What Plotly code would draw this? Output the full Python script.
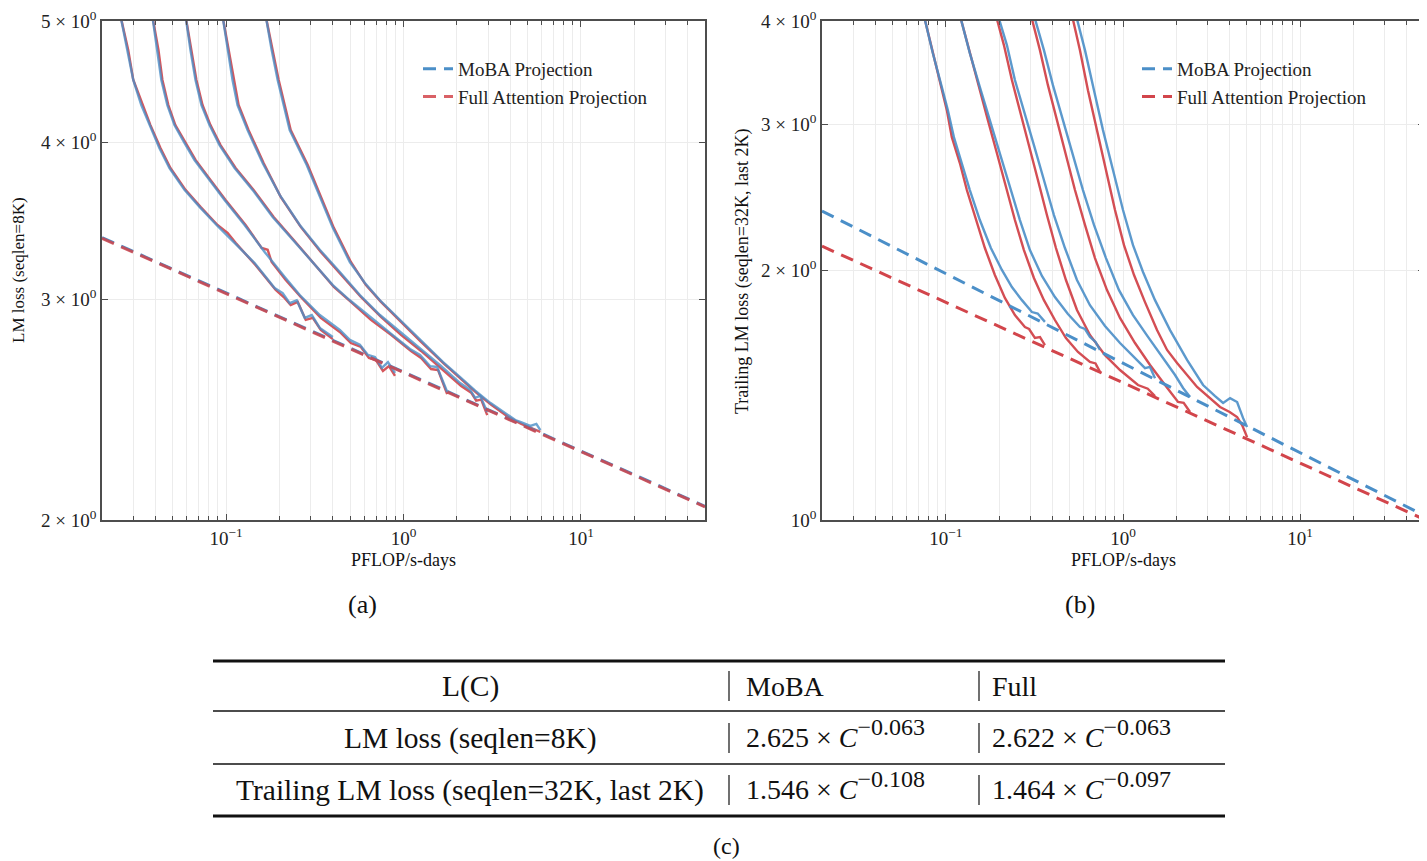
import plotly.graph_objects as go

# the page body adds an 8 px margin, so the figure is a little smaller than the window
W, H = 1419, 853
OFF = 8

# ---------------- data ----------------
# projection lines (power-law fits, drawn between the axis limits)
proj_x = [0.02, 50]
moba_proj_a = [3.359, 2.051]
full_proj_a = [3.355, 2.049]
moba_proj_b = [2.359, 1.013]
full_proj_b = [2.140, 1.002]

# (a) LM loss (seqlen=8K), five model sizes
a_moba_x = [
    [0.0254, 0.0278, 0.0300, 0.0333, 0.0370, 0.0421, 0.0480, 0.0583, 0.0709, 0.0884, 0.1117, 0.1449, 0.1879, 0.2085, 0.2284, 0.2502, 0.2776, 0.3041, 0.3375, 0.3696, 0.3997],
    [0.0384, 0.0410, 0.0432, 0.0467, 0.0512, 0.0583, 0.0664, 0.0807, 0.0981, 0.1272, 0.1650, 0.2141, 0.2602, 0.3375, 0.4377, 0.4984, 0.5676, 0.6304, 0.6902, 0.7558, 0.8176, 0.8953],
    [0.0591, 0.0630, 0.0673, 0.0727, 0.0807, 0.0919, 0.1117, 0.1411, 0.1831, 0.2375, 0.3081, 0.3997, 0.4984, 0.6468, 0.8390, 1.088, 1.239, 1.411, 1.546, 1.762],
    [0.0955, 0.1020, 0.1088, 0.1161, 0.1322, 0.1608, 0.2006, 0.2602, 0.3375, 0.4377, 0.5676, 0.7367, 0.9555, 1.239, 1.608, 2.085, 2.375, 2.535, 2.706, 2.963],
    [0.1672, 0.1807, 0.1954, 0.2113, 0.2284, 0.2849, 0.3375, 0.3997, 0.4984, 0.6060, 0.7367, 0.9555, 1.239, 1.672, 2.085, 2.535, 3.082, 3.510, 3.843, 4.265, 4.552, 5.185, 5.606, 5.905],
]
a_moba_y = [
    [5.05, 4.742, 4.487, 4.285, 4.130, 3.960, 3.817, 3.667, 3.554, 3.438, 3.327, 3.206, 3.062, 3.034, 2.978, 2.994, 2.899, 2.914, 2.846, 2.820, 2.799],
    [5.05, 4.742, 4.487, 4.285, 4.130, 3.997, 3.874, 3.734, 3.600, 3.438, 3.272, 3.125, 3.023, 2.914, 2.836, 2.784, 2.759, 2.708, 2.698, 2.644, 2.673, 2.620],
    [5.05, 4.742, 4.487, 4.285, 4.130, 3.981, 3.817, 3.667, 3.489, 3.345, 3.206, 3.079, 2.994, 2.904, 2.820, 2.738, 2.708, 2.653, 2.649, 2.531],
    [5.05, 4.742, 4.487, 4.285, 4.092, 3.852, 3.633, 3.438, 3.285, 3.154, 3.023, 2.914, 2.825, 2.743, 2.658, 2.572, 2.540, 2.503, 2.512, 2.439],
    [5.05, 4.742, 4.487, 4.285, 4.092, 3.838, 3.620, 3.420, 3.212, 3.091, 2.994, 2.888, 2.784, 2.673, 2.600, 2.536, 2.480, 2.448, 2.425, 2.403, 2.395, 2.377, 2.386, 2.359],
]
a_full_x = [
    [0.0254, 0.0281, 0.0300, 0.0338, 0.0375, 0.0427, 0.0486, 0.0591, 0.0718, 0.0895, 0.1020, 0.1132, 0.1468, 0.1905, 0.2113, 0.2314, 0.2535, 0.2813, 0.3081, 0.3419, 0.3745, 0.3997],
    [0.0384, 0.0416, 0.0438, 0.0473, 0.0518, 0.0591, 0.0673, 0.0817, 0.0994, 0.1289, 0.1587, 0.1716, 0.1807, 0.2169, 0.2636, 0.3419, 0.4433, 0.5051, 0.5754, 0.6385, 0.6993, 0.7659, 0.8282, 0.8953],
    [0.0591, 0.0638, 0.0681, 0.0737, 0.0817, 0.0931, 0.1132, 0.1430, 0.1855, 0.2406, 0.3121, 0.4050, 0.5051, 0.6553, 0.8501, 1.102, 1.256, 1.430, 1.566, 1.762],
    [0.0955, 0.1033, 0.1103, 0.1177, 0.1340, 0.1628, 0.2032, 0.2636, 0.3419, 0.4433, 0.5754, 0.7463, 0.9680, 1.256, 1.629, 2.113, 2.407, 2.568, 2.741, 2.963],
    [0.1672, 0.1831, 0.1980, 0.2141, 0.2314, 0.2887, 0.3419, 0.4050, 0.5051, 0.6139, 0.7463, 0.9680, 1.256, 1.694, 2.113, 2.568, 3.122, 3.894, 4.611, 5.252, 5.905],
]
a_full_y = [
    [5.05, 4.742, 4.490, 4.285, 4.130, 3.960, 3.817, 3.667, 3.554, 3.438, 3.388, 3.327, 3.193, 3.051, 3.012, 2.968, 2.985, 2.888, 2.899, 2.836, 2.810, 2.788],
    [5.05, 4.742, 4.487, 4.285, 4.130, 3.997, 3.874, 3.734, 3.600, 3.438, 3.296, 3.285, 3.212, 3.108, 3.012, 2.899, 2.820, 2.768, 2.748, 2.693, 2.683, 2.630, 2.653, 2.606],
    [5.05, 4.742, 4.487, 4.285, 4.130, 3.981, 3.817, 3.667, 3.489, 3.345, 3.206, 3.068, 2.985, 2.888, 2.810, 2.728, 2.693, 2.639, 2.634, 2.520],
    [5.05, 4.742, 4.487, 4.285, 4.092, 3.852, 3.620, 3.426, 3.272, 3.142, 3.012, 2.904, 2.810, 2.728, 2.644, 2.558, 2.527, 2.490, 2.495, 2.425],
    [5.05, 4.742, 4.487, 4.285, 4.092, 3.838, 3.620, 3.420, 3.212, 3.079, 2.985, 2.877, 2.774, 2.664, 2.591, 2.527, 2.471, 2.416, 2.386, 2.368, 2.351],
]

# (b) Trailing LM loss (seqlen=32K, last 2K)
b_moba_x = [
    [0.0751, 0.0844, 0.0949, 0.1026, 0.1110, 0.1231, 0.1366, 0.1556, 0.1795, 0.2072, 0.2360, 0.2688, 0.3061, 0.3300, 0.3625],
    [0.1200, 0.1366, 0.1556, 0.1772, 0.2019, 0.2299, 0.2619, 0.2983, 0.3486, 0.4128, 0.4889, 0.5715, 0.6100, 0.6508, 0.7000, 0.7412],
    [0.1967, 0.2211, 0.2454, 0.2759, 0.3142, 0.3578, 0.4075, 0.4702, 0.5498, 0.6508, 0.7912, 0.9617, 1.169, 1.331, 1.420, 1.516],
    [0.3142, 0.3578, 0.4022, 0.4581, 0.5218, 0.5943, 0.6857, 0.8016, 0.9493, 1.139, 1.384, 1.661, 1.967, 2.183, 2.390],
    [0.5427, 0.6100, 0.6857, 0.7709, 0.8780, 1.000, 1.139, 1.297, 1.516, 1.843, 2.299, 2.831, 3.310, 3.673, 4.023, 4.406, 4.764, 5.018],
]
b_moba_y = [
    [4.066, 3.659, 3.329, 3.123, 2.897, 2.696, 2.501, 2.301, 2.129, 2.003, 1.910, 1.842, 1.782, 1.775, 1.734],
    [4.066, 3.659, 3.329, 3.037, 2.772, 2.522, 2.301, 2.117, 1.970, 1.858, 1.772, 1.709, 1.700, 1.663, 1.640, 1.604],
    [4.066, 3.741, 3.395, 3.123, 2.834, 2.572, 2.333, 2.129, 1.948, 1.816, 1.714, 1.635, 1.568, 1.525, 1.530, 1.483],
    [4.066, 3.689, 3.347, 3.037, 2.756, 2.501, 2.270, 2.070, 1.894, 1.767, 1.663, 1.577, 1.496, 1.443, 1.407],
    [4.066, 3.689, 3.301, 2.954, 2.644, 2.366, 2.146, 1.992, 1.842, 1.695, 1.560, 1.455, 1.411, 1.384, 1.403, 1.388, 1.327, 1.295],
]
b_full_x = [
    [0.0751, 0.0844, 0.0937, 0.1013, 0.1081, 0.1200, 0.1314, 0.1477, 0.1661, 0.1891, 0.2154, 0.2454, 0.2795, 0.2950, 0.3183, 0.3400, 0.3625],
    [0.1200, 0.1366, 0.1536, 0.1727, 0.1941, 0.2183, 0.2454, 0.2759, 0.3142, 0.3578, 0.4128, 0.4764, 0.5570, 0.6508, 0.7000, 0.7412],
    [0.1916, 0.2127, 0.2360, 0.2619, 0.2944, 0.3310, 0.3720, 0.4183, 0.4764, 0.5498, 0.6508, 0.7912, 0.9617, 1.215, 1.380, 1.516],
    [0.3022, 0.3397, 0.3769, 0.4237, 0.4764, 0.5356, 0.6100, 0.6947, 0.8121, 0.9617, 1.169, 1.421, 1.727, 2.045, 2.200, 2.390],
    [0.5150, 0.5715, 0.6341, 0.7126, 0.8016, 0.9012, 1.013, 1.154, 1.331, 1.556, 1.773, 2.019, 2.619, 3.532, 4.000, 4.406, 4.702, 5.018],
]
b_full_y = [
    [4.066, 3.659, 3.329, 3.123, 2.897, 2.696, 2.501, 2.301, 2.129, 1.975, 1.853, 1.767, 1.709, 1.700, 1.658, 1.662, 1.626],
    [4.066, 3.659, 3.329, 3.037, 2.772, 2.522, 2.301, 2.117, 1.959, 1.842, 1.743, 1.658, 1.595, 1.551, 1.545, 1.509],
    [4.066, 3.741, 3.395, 3.123, 2.834, 2.572, 2.333, 2.129, 1.948, 1.792, 1.672, 1.581, 1.517, 1.455, 1.440, 1.411],
    [4.066, 3.689, 3.347, 3.037, 2.756, 2.501, 2.270, 2.070, 1.894, 1.753, 1.635, 1.538, 1.455, 1.388, 1.385, 1.350],
    [4.066, 3.689, 3.301, 2.954, 2.644, 2.366, 2.146, 1.975, 1.832, 1.695, 1.604, 1.547, 1.447, 1.369, 1.350, 1.331, 1.302, 1.259],
]

# table (c)
table_header = ["L(C)", "MoBA", "Full"]
table_labels = ["LM loss (seqlen=8K)", "Trailing LM loss (seqlen=32K, last 2K)"]
table_coef_moba = ["2.625", "1.546"]
table_exp_moba = ["−0.063", "−0.108"]
table_coef_full = ["2.622", "1.464"]
table_exp_full = ["−0.063", "−0.097"]

# ---------------- style ----------------
BLUE = "#4b8fc8"
RED = "#d2454b"
AXC = "#4d4d4d"
GRID = "#ececec"
SERIF = "Liberation Serif"


def px(x):
    return (x - OFF) / W


def py(y):
    return 1 - (y - OFF) / H


def power_law(coef, exp):
    return (coef + " × <i>C</i>"
            + '<sup><span style="font-size:24px">' + exp + "</span></sup>")


fig = go.Figure()


def add_curves(xs_list, ys_list, color, xa, ya, opacity):
    for xs, ys in zip(xs_list, ys_list):
        fig.add_trace(go.Scatter(x=xs, y=ys, mode="lines", xaxis=xa, yaxis=ya,
                                 line=dict(color=color, width=2.4), opacity=opacity,
                                 showlegend=False, hoverinfo="skip"))


# panel (a)
add_curves(a_full_x, a_full_y, RED, "x", "y", 0.9)
add_curves(a_moba_x, a_moba_y, BLUE, "x", "y", 0.8)
fig.add_trace(go.Scatter(x=proj_x, y=moba_proj_a, mode="lines", xaxis="x", yaxis="y",
                         line=dict(color=BLUE, width=3, dash="13px,8px"),
                         name="MoBA Projection", legend="legend"))
fig.add_trace(go.Scatter(x=proj_x, y=full_proj_a, mode="lines", xaxis="x", yaxis="y",
                         line=dict(color=RED, width=3, dash="13px,8px"), opacity=0.85,
                         name="Full Attention Projection", legend="legend"))

# panel (b)
add_curves(b_full_x, b_full_y, RED, "x2", "y2", 0.95)
add_curves(b_moba_x, b_moba_y, BLUE, "x2", "y2", 0.9)
fig.add_trace(go.Scatter(x=proj_x, y=moba_proj_b, mode="lines", xaxis="x2", yaxis="y2",
                         line=dict(color=BLUE, width=3, dash="13px,8px"),
                         name="MoBA Projection", legend="legend2"))
fig.add_trace(go.Scatter(x=proj_x, y=full_proj_b, mode="lines", xaxis="x2", yaxis="y2",
                         line=dict(color=RED, width=3, dash="13px,8px"),
                         name="Full Attention Projection", legend="legend2"))

minor_x = [0.02, 0.03, 0.04, 0.05, 0.06, 0.07, 0.08, 0.09,
           0.2, 0.3, 0.4, 0.5, 0.6, 0.7, 0.8, 0.9,
           2, 3, 4, 5, 6, 7, 8, 9, 20, 30, 40, 50]

base_axis = dict(type="log", showline=True, linecolor=AXC, linewidth=1.5, mirror="ticks",
                 ticks="inside", ticklen=6, tickwidth=1, tickcolor=AXC, automargin=False,
                 ticklabeloverflow="allow",
                 showgrid=True, gridcolor=GRID, gridwidth=1, zeroline=False,
                 tickfont=dict(family=SERIF, size=19, color="#222222"))

xaxis_common = dict(base_axis, range=[-1.699, 1.699], tickvals=[0.1, 1, 10],
                    ticktext=["10<sup>−1</sup>", "10<sup>0</sup>", "10<sup>1</sup>"],
                    minor=dict(tickvals=minor_x, ticks="inside", ticklen=4, tickcolor=AXC,
                               showgrid=True, gridcolor=GRID, gridwidth=1))

legend_common = dict(xanchor="left", yanchor="top", bgcolor="rgba(0,0,0,0)",
                     font=dict(family=SERIF, size=19, color="#222222"),
                     itemwidth=30, tracegroupgap=0)

fig.update_layout(
    width=W, height=H,
    margin=dict(l=0, r=0, t=0, b=0, autoexpand=False),
    paper_bgcolor="white", plot_bgcolor="white",
    font=dict(family=SERIF, color="#222222"),
    xaxis=dict(xaxis_common, domain=[px(102), px(705)], anchor="y"),
    yaxis=dict(base_axis, domain=[py(520), py(21)], anchor="x", range=[0.30103, 0.69898],
               tickvals=[2, 3, 4, 5],
               ticktext=["2 × 10<sup>0</sup>", "3 × 10<sup>0</sup>", "4 × 10<sup>0</sup>", "5 × 10<sup>0</sup>"]),
    xaxis2=dict(xaxis_common, domain=[px(822), px(1424)], anchor="y2"),
    yaxis2=dict(base_axis, domain=[py(520), py(21)], anchor="x2", range=[0, 0.60207],
                tickvals=[1, 2, 3, 4],
                ticktext=["10<sup>0</sup>", "2 × 10<sup>0</sup>", "3 × 10<sup>0</sup>", "4 × 10<sup>0</sup>"]),
    legend=dict(legend_common, x=px(418), y=py(50)),
    legend2=dict(legend_common, x=px(1137), y=py(50)),
)

annotations = [
    dict(text="LM loss (seqlen=8K)", x=px(19), y=py(270), textangle=-90, font=dict(size=17)),
    dict(text="PFLOP/s-days", x=px(403), y=py(560), font=dict(size=18)),
    dict(text="Trailing LM loss (seqlen=32K, last 2K)", x=px(742), y=py(272), textangle=-90, font=dict(size=18)),
    dict(text="PFLOP/s-days", x=px(1123), y=py(560), font=dict(size=18)),
    dict(text="(a)", x=px(362), y=py(604), font=dict(size=26)),
    dict(text="(b)", x=px(1080), y=py(604), font=dict(size=26)),
    dict(text="(c)", x=px(726), y=py(846), font=dict(size=24)),
]

# table text
row_y = [686, 738, 790]
annotations.append(dict(text=table_header[0], x=px(470), y=py(row_y[0]), font=dict(size=29.5)))
annotations.append(dict(text=table_header[1], x=px(744), y=py(row_y[0]), xanchor="left", font=dict(size=28)))
annotations.append(dict(text=table_header[2], x=px(990), y=py(row_y[0]), xanchor="left", font=dict(size=28)))
for i in range(len(table_labels)):
    yc = row_y[i + 1]
    annotations.append(dict(text=table_labels[i], x=px(470), y=py(yc), font=dict(size=29.5)))
    annotations.append(dict(text=power_law(table_coef_moba[i], table_exp_moba[i]), x=px(744), y=py(yc - 5),
                            xanchor="left", font=dict(size=28)))
    annotations.append(dict(text=power_law(table_coef_full[i], table_exp_full[i]), x=px(990), y=py(yc - 5),
                            xanchor="left", font=dict(size=28)))

for a in annotations:
    a.setdefault("xref", "paper")
    a.setdefault("yref", "paper")
    a.setdefault("showarrow", False)
    a.setdefault("xanchor", "center")
    a.setdefault("yanchor", "middle")
    a["font"] = dict(family=SERIF, color="#111111", **a["font"])
fig.update_layout(annotations=annotations)

# table rules
shapes = []
for yv, w in [(661, 2.8), (711, 1.6), (764, 1.6), (816, 2.8)]:
    shapes.append(dict(type="line", xref="paper", yref="paper", x0=px(213), x1=px(1225),
                       y0=py(yv), y1=py(yv), line=dict(color="#111111", width=w)))
for yc in row_y:
    for xv in [729, 979]:
        shapes.append(dict(type="line", xref="paper", yref="paper", x0=px(xv), x1=px(xv),
                           y0=py(yc - 15), y1=py(yc + 15), line=dict(color="#111111", width=1.2)))
fig.update_layout(shapes=shapes)

fig.write_html("out.html")
